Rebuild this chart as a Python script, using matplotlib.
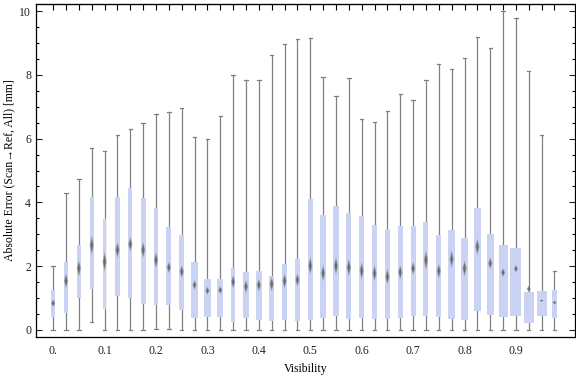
import numpy as np
import matplotlib
matplotlib.use("Agg")
import matplotlib.pyplot as plt

# visibility bins (categories)
visibility = np.round(np.arange(40) * 0.025, 3)

whisker_lo = [0, 0, 0, 0.24, 0, 0, 0, 0, 0.02, 0.02,
              0, 0, 0, 0, 0, 0, 0, 0, 0, 0,
              0, 0, 0, 0, 0, 0, 0, 0, 0, 0,
              0, 0, 0, 0, 0, 0, 0, 0, 0, 0]
q1 = [0.42, 0.53, 0.99, 1.28, 0.65, 1.08, 0.99, 0.82, 0.78, 0.78,
      0.63, 0.39, 0.42, 0.42, 0.26, 0.39, 0.32, 0.29, 0.32, 0.29,
      0.32, 0.39, 0.45, 0.34, 0.39, 0.36, 0.36, 0.38, 0.45, 0.45,
      0.42, 0.36, 0.32, 0.60, 0.48, 0.42, 0.45, 0.23, 0.45, 0.39]
median = [0.84, 1.54, 1.93, 2.66, 2.14, 2.51, 2.69, 2.51, 2.19, 1.96,
          1.83, 1.41, 1.23, 1.25, 1.51, 1.36, 1.41, 1.44, 1.54, 1.57,
          2.01, 1.78, 2.01, 1.96, 1.86, 1.78, 1.67, 1.81, 1.93, 2.19,
          1.85, 2.22, 1.93, 2.61, 2.09, 1.80, 1.92, 1.29, 0.92, 0.86]
q3 = [1.25, 2.13, 2.65, 4.16, 3.48, 4.17, 4.45, 4.14, 3.82, 3.23,
      2.98, 2.13, 1.60, 1.60, 1.94, 1.82, 1.85, 1.69, 2.07, 2.23,
      4.10, 3.60, 3.89, 3.67, 3.56, 3.29, 3.17, 3.26, 3.26, 3.39,
      2.97, 3.13, 2.88, 3.82, 3.01, 2.66, 2.57, 1.19, 1.22, 1.25]
whisker_hi = [2.0, 4.31, 4.73, 5.72, 5.61, 6.11, 6.30, 6.49, 6.77, 6.82,
              6.95, 6.05, 5.99, 6.71, 7.98, 7.83, 7.83, 8.62, 8.97, 9.12,
              9.15, 7.93, 7.34, 7.90, 6.61, 6.52, 6.87, 7.40, 7.21, 7.84,
              8.34, 8.18, 8.53, 9.18, 8.84, 10.0, 9.78, 8.12, 6.11, 1.85]
# median confidence interval (diamond height)
median_ci = [0.25, 0.47, 0.52, 0.63, 0.63, 0.52, 0.47, 0.52, 0.52, 0.37,
             0.42, 0.31, 0.26, 0.26, 0.42, 0.42, 0.42, 0.47, 0.47, 0.42,
             0.57, 0.52, 0.57, 0.57, 0.57, 0.52, 0.52, 0.47, 0.42, 0.63,
             0.47, 0.57, 0.52, 0.52, 0.38, 0.28, 0.24, 0.20, 0.07, 0.12]
# relative box widths (in pixels of the reference)
box_px = [3.3, 3.3, 3.3, 3.3, 3.3, 4, 4, 4.7, 4.3, 4.7,
          4.3, 6.3, 6, 6, 4, 4.7, 5, 5, 5, 5,
          5, 5, 5.3, 4.7, 4.7, 4.7, 4.7, 4.3, 4.7, 4.7,
          4.7, 6, 6, 6.7, 6.7, 8.7, 10.7, 9.7, 9.7, 4.3]

x_ticks = [0.0, 0.1, 0.2, 0.3, 0.4, 0.5, 0.6, 0.7, 0.8, 0.9]
x_labels = ["0.", "0.1", "0.2", "0.3", "0.4", "0.5", "0.6", "0.7", "0.8", "0.9"]

plt.rcParams['font.family'] = ['Liberation Serif', 'DejaVu Serif']
plt.rcParams['font.size'] = 8.5

fig = plt.figure(figsize=(5.76, 3.77), dpi=100)
ax = fig.add_axes([36 / 576, 40 / 377, 539 / 576, 333 / 377])

px = 1 / 517.7  # data units per pixel on x
box_col = '#cbd3f5'
wcol = '#808080'
for i, x in enumerate(visibility):
    ax.plot([x, x], [whisker_lo[i], whisker_hi[i]], color=wcol, lw=0.9, zorder=1,
            solid_capstyle='butt')
    cw = 1.7 * px
    ax.plot([x - cw, x + cw], [whisker_lo[i]] * 2, color=wcol, lw=0.9, zorder=1)
    ax.plot([x - cw, x + cw], [whisker_hi[i]] * 2, color=wcol, lw=0.9, zorder=1)
    w = (box_px[i] + 0.4) * px
    ax.bar(x, q3[i] - q1[i], bottom=q1[i], width=w, color=box_col,
           edgecolor='none', zorder=2)
    h = median_ci[i] / 2
    dw = 2.2 * px
    m = median[i]
    ax.fill([x - dw, x, x + dw, x], [m, m + h, m, m - h], color='#8a8a8a',
            alpha=0.6, lw=0, zorder=3)
    ax.fill([x - dw * 0.6, x, x + dw * 0.6, x], [m, m + h * 0.7, m, m - h * 0.7],
            color='#5e5e5e', alpha=0.8, lw=0, zorder=4)

ax.set_xlim(-17.3 * px, 1 + 7.7 * px - 0.0)
ax.set_ylim(-0.22, 10.22)

ax.set_xticks(x_ticks)
ax.set_xticklabels(x_labels)
ax.tick_params(axis='x', which='both', bottom=False, length=0, pad=6, colors='#222222')
ax.set_yticks([0, 2, 4, 6, 8, 10])
ax.set_yticks(np.arange(0, 10.01, 0.5), minor=True)
ax.tick_params(axis='y', which='major', direction='in', length=4, width=0.8,
               left=True, right=True, colors='#222222')
ax.tick_params(axis='y', which='minor', direction='in', length=2.5, width=0.8,
               left=True, right=True)

top = ax.secondary_xaxis('top')
top.set_xticks(visibility)
top.set_xticklabels([])
top.tick_params(direction='in', length=4, width=0.8)

for s in ax.spines.values():
    s.set_linewidth(0.9)

ax.set_xlabel("Visibility", labelpad=4)
ax.set_ylabel("Absolute Error (Scan\u2192Ref, All) [mm]", labelpad=3)

fig.savefig("out.png", dpi=100)
